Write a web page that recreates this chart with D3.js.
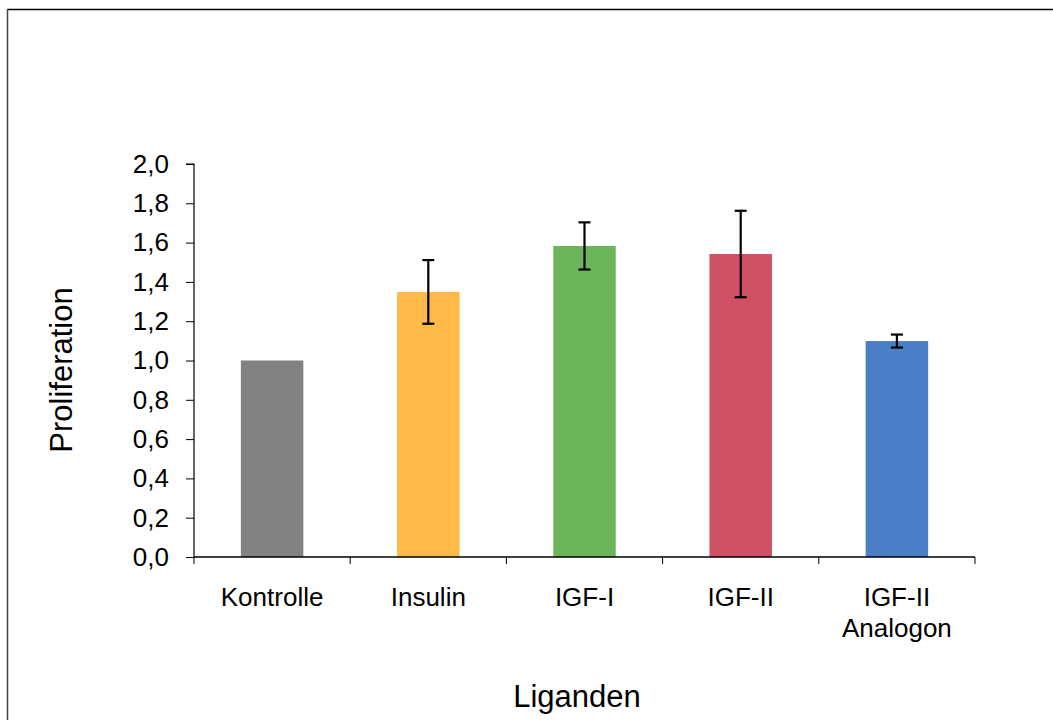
<!DOCTYPE html>
<html><head><meta charset="utf-8">
<script src="https://cdn.jsdelivr.net/npm/d3@7"></script>
<style>html,body{margin:0;padding:0;background:#fff;}svg{display:block;font-family:"Liberation Sans",Arial,sans-serif;}</style>
</head><body>
<svg id="c" width="1053" height="720"></svg>
<script>
const categories = [["Kontrolle"], ["Insulin"], ["IGF-I"], ["IGF-II"], ["IGF-II", "Analogon"]];
const values = [1.0, 1.349, 1.583, 1.542, 1.099];
const errors = [0, 0.162, 0.12, 0.22, 0.033];
const colors = ["#828282", "#FDBA48", "#6CB55B", "#D05165", "#4A7FC8"];
const yTicks = [0, 0.2, 0.4, 0.6, 0.8, 1.0, 1.2, 1.4, 1.6, 1.8, 2.0];
const yTitle = "Proliferation";
const xTitle = "Liganden";

const svg = d3.select("#c");
// frame
svg.append("line").attr("x1", 7.5).attr("x2", 1053).attr("y1", 9.5).attr("y2", 9.5).attr("stroke", "#000").attr("stroke-width", 1.5);
svg.append("line").attr("x1", 7.5).attr("x2", 7.5).attr("y1", 9).attr("y2", 720).attr("stroke", "#444").attr("stroke-width", 1.5);

const pLeft = 194, pRight = 975, pTop = 164, pBottom = 557;
const x = d3.scaleBand().domain(d3.range(categories.length)).range([pLeft, pRight]).paddingInner(0).paddingOuter(0);
const y = d3.scaleLinear().domain([0, 2]).range([pBottom, pTop]);
const bw = x.bandwidth() * 0.4;

// bars
svg.append("g").selectAll("rect").data(values).join("rect")
  .attr("x", (d, i) => x(i) + (x.bandwidth() - bw) / 2)
  .attr("width", bw)
  .attr("y", d => y(d))
  .attr("height", d => y(0) - y(d))
  .attr("fill", (d, i) => colors[i]);

// error bars
const eg = svg.append("g").attr("stroke", "#000").attr("stroke-width", 2.2);
values.forEach((v, i) => {
  if (!errors[i]) return;
  const cx = x(i) + x.bandwidth() / 2;
  eg.append("line").attr("x1", cx).attr("x2", cx).attr("y1", y(v + errors[i])).attr("y2", y(v - errors[i]));
  [v + errors[i], v - errors[i]].forEach(e => {
    eg.append("line").attr("x1", cx - 6).attr("x2", cx + 6).attr("y1", y(e)).attr("y2", y(e));
  });
});

// y axis
const yAxis = d3.axisLeft(y).tickValues(yTicks).tickSize(8).tickPadding(17)
  .tickFormat(d => d3.format(".1f")(d).replace(".", ","));
const ya = svg.append("g").attr("transform", `translate(${pLeft},0)`).call(yAxis);
ya.select(".domain").attr("stroke", "#000").attr("stroke-width", 1.2).attr("d", `M-8,${pTop}H0V${pBottom}`);
ya.selectAll(".tick line").attr("stroke", "#000").attr("stroke-width", 1);
ya.selectAll(".tick text").attr("font-size", 26).attr("fill", "#000").attr("font-family", "Liberation Sans, Arial, sans-serif");

// x axis
const xa = svg.append("g").attr("transform", `translate(0,${pBottom})`);
xa.append("line").attr("x1", pLeft).attr("x2", pRight).attr("y1", 0).attr("y2", 0).attr("stroke", "#000").attr("stroke-width", 1.5);
const bounds = d3.range(categories.length + 1).map(i => i < categories.length ? x(i) : pRight);
xa.selectAll(".bt").data(bounds).join("line").attr("class", "bt")
  .attr("x1", d => d).attr("x2", d => d).attr("y1", 0).attr("y2", 7).attr("stroke", "#000").attr("stroke-width", 1);

const lbl = svg.append("g").attr("font-size", 26).attr("fill", "#000").attr("text-anchor", "middle");
categories.forEach((lines, i) => {
  const t = lbl.append("text").attr("x", x(i) + x.bandwidth() / 2).attr("y", 606);
  lines.forEach((l, j) => t.append("tspan").attr("x", x(i) + x.bandwidth() / 2).attr("dy", j === 0 ? 0 : 31).text(l));
});

// titles
svg.append("text").attr("transform", "translate(72,370) rotate(-90)").attr("text-anchor", "middle")
  .attr("font-size", 31).attr("fill", "#000").text(yTitle);
svg.append("text").attr("x", 577).attr("y", 707).attr("text-anchor", "middle")
  .attr("font-size", 31).attr("fill", "#000").text(xTitle);
</script>
</body></html>
